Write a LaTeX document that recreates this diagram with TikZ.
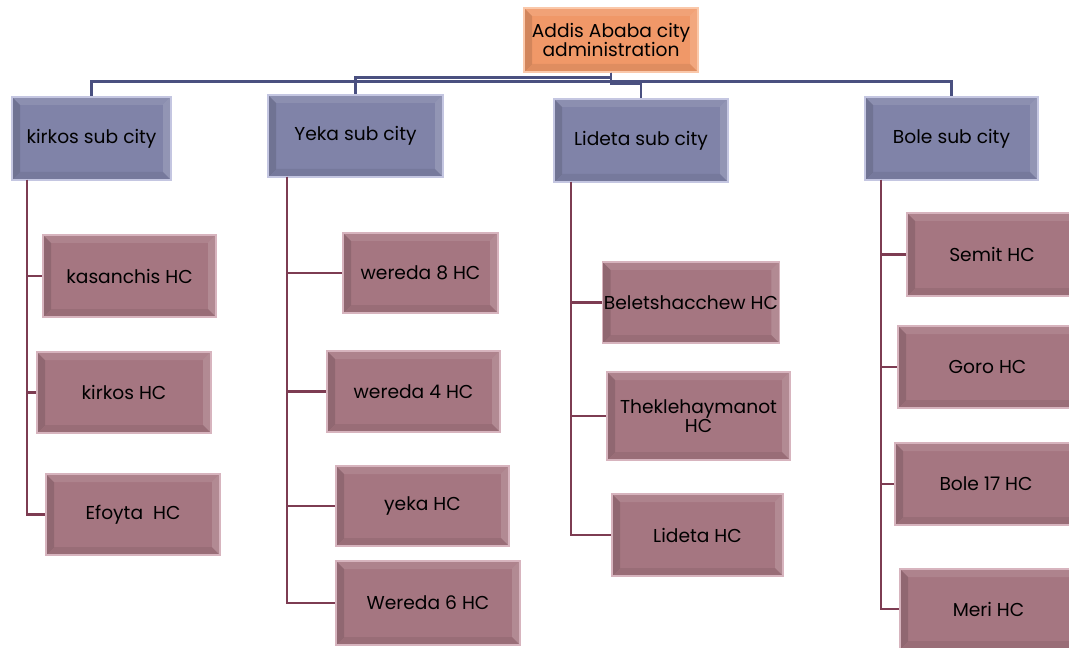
\documentclass[tikz,border=0pt]{standalone}
\usepackage{fontspec}
\setmainfont{Poppins}
\definecolor{topfill}{RGB}{240,152,104}
\definecolor{topedge}{RGB}{250,200,170}
\definecolor{subfill}{RGB}{128,131,168}
\definecolor{subedge}{RGB}{196,198,225}
\definecolor{hcfill}{RGB}{165,118,129}
\definecolor{hcedge}{RGB}{215,180,190}
\definecolor{busline}{RGB}{74,80,128}
\definecolor{hcline}{RGB}{125,60,82}
\tikzset{
    sz/.style 2 args={minimum width=#1*0.75pt, minimum height=#2*0.75pt},
    bevel/.style={path picture={
        \fill[black,opacity=.12] (path picture bounding box.south west) -- (path picture bounding box.north west)
            -- ([shift={(6pt,-6pt)}]path picture bounding box.north west) -- ([shift={(6pt,6pt)}]path picture bounding box.south west) -- cycle;
        \fill[black,opacity=.07] (path picture bounding box.south west) -- (path picture bounding box.south east)
            -- ([shift={(-6pt,6pt)}]path picture bounding box.south east) -- ([shift={(6pt,6pt)}]path picture bounding box.south west) -- cycle;
        \fill[white,opacity=.15] (path picture bounding box.north east) -- (path picture bounding box.south east)
            -- ([shift={(-6pt,6pt)}]path picture bounding box.south east) -- ([shift={(-6pt,-6pt)}]path picture bounding box.north east) -- cycle;
        \fill[white,opacity=.1] (path picture bounding box.north west) -- (path picture bounding box.north east)
            -- ([shift={(-6pt,-6pt)}]path picture bounding box.north east) -- ([shift={(6pt,-6pt)}]path picture bounding box.north west) -- cycle;
    }},
    topbox/.style={fill=topfill, draw=topedge, line width=1pt, bevel, align=center, inner sep=2pt},
    subbox/.style={fill=subfill, draw=subedge, line width=1pt, bevel, align=center},
    hcbox/.style={fill=hcfill, draw=hcedge, line width=1pt, bevel, align=center},
    busedge/.style={draw=busline, line width=1.8pt},
    hcedge/.style={draw=hcline, line width=1.8pt}
}
\begin{document}
\begin{tikzpicture}[x=0.75pt, y=-0.75pt, every node/.style={font=\fontsize{14}{14.5}\selectfont, text=black}]
\useasboundingbox (0,0) rectangle (1069,648);

% top level
\node[topbox, sz={174}{64}] (addis) at (611,40) {Addis Ababa city\\administration};

% sub cities
\node[subbox, sz={159}{83}] (kirkossub) at (91.5,138.5) {kirkos sub city};
\node[subbox, sz={175}{82}] (yekasub) at (355.5,136) {Yeka sub city};
\node[subbox, sz={174}{83}] (lidetasub) at (641,140.5) {Lideta sub city};
\node[subbox, sz={173}{83}] (bolesub) at (951.5,138.5) {Bole sub city};

% kirkos health centers
\node[hcbox, sz={173}{82}] (kasanchis) at (129.5,276) {kasanchis HC};
\node[hcbox, sz={174}{81}] (kirkoshc) at (124,392.5) {kirkos HC};
\node[hcbox, sz={174}{81}] (efoyta) at (133,514.5) {Efoyta~~HC};

% yeka health centers
\node[hcbox, sz={155}{80}] (wereda8) at (420.5,273) {wereda 8 HC};
\node[hcbox, sz={173}{81}] (wereda4) at (413.5,391.5) {wereda 4 HC};
\node[hcbox, sz={173}{80}] (yekahc) at (422.5,506) {yeka HC};
\node[hcbox, sz={184}{84}] (wereda6) at (428,603) {Wereda 6 HC};

% lideta health centers
\node[hcbox, sz={174}{81}, inner sep=1pt] (beletshacchew) at (691,302.5) {Beletshacchew HC};
\node[hcbox, sz={183}{88}] (theklehaymanot) at (698.5,416) {Theklehaymanot\\HC};
\node[hcbox, sz={171}{82}] (lidetahc) at (697.5,535) {Lideta HC};

% bole health centers
\node[hcbox, sz={170}{83}] (semit) at (992,254.5) {Semit HC};
\node[hcbox, sz={179}{82}] (goro) at (987.5,367) {Goro HC};
\node[hcbox, sz={182}{82}] (bole17) at (986,484) {Bole 17 HC};
\node[hcbox, sz={177}{80}] (meri) at (988.5,609) {Meri HC};

% city to sub cities
\draw[busedge] (addis.south) -- ++(0,9) -| (kirkossub.north);
\draw[busedge] (addis.south) -- ++(0,5) -| (yekasub.north);
\draw[busedge] (addis.south) -- ++(0,11) -| (lidetasub.north);
\draw[busedge] (addis.south) -- ++(0,9) -| (bolesub.north);

% sub cities to health centers
\coordinate (kspine) at (27,180);
\coordinate (yspine) at (287,177);
\coordinate (lspine) at (571,182);
\coordinate (bspine) at (881,180);

\foreach \hc in {kasanchis,kirkoshc,efoyta}
    \draw[hcedge] (kspine) |- (\hc.west);
\foreach \hc in {wereda8,wereda4,yekahc,wereda6}
    \draw[hcedge] (yspine) |- (\hc.west);
\foreach \hc in {beletshacchew,theklehaymanot,lidetahc}
    \draw[hcedge] (lspine) |- (\hc.west);
\foreach \hc in {semit,goro,bole17,meri}
    \draw[hcedge] (bspine) |- (\hc.west);
\end{tikzpicture}
\end{document}
